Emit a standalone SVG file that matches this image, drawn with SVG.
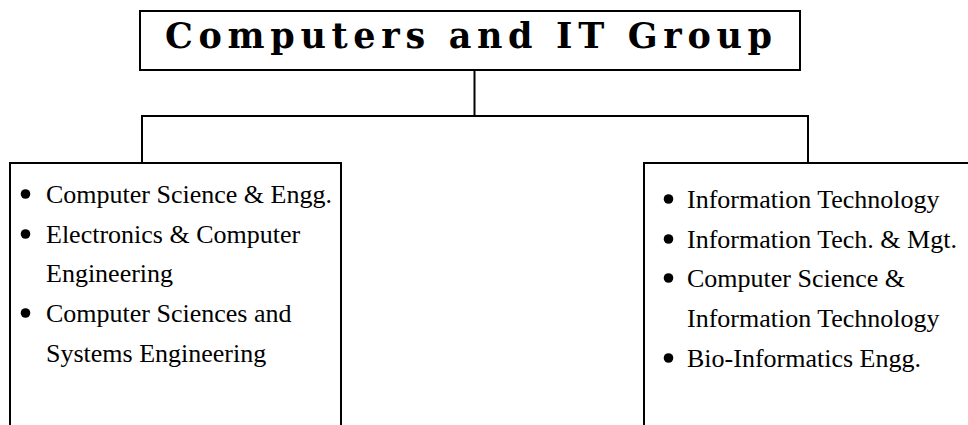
<svg xmlns="http://www.w3.org/2000/svg" width="968" height="425" viewBox="0 0 968 425">
<style>
.box{fill:none;stroke:#000;stroke-width:2}
.con{fill:none;stroke:#000;stroke-width:2}
.title{font-family:"DejaVu Serif","Liberation Serif",serif;font-weight:bold;font-size:35px;fill:#000}
.item{font-family:"Liberation Serif","Times New Roman",serif;font-size:26px;fill:#000}
.bul{fill:#000}
</style>
<rect width="968" height="425" fill="#fff"/>
<g id="connectors">
<path class="con" d="M474.5,70 V116"/>
<path class="con" d="M142,116 H808"/>
<path class="con" d="M142,115 V163"/>
<path class="con" d="M808,115 V163"/>
</g>
<g id="title">
<rect class="box" x="140" y="11" width="660" height="59"/>
<text class="title" x="165" y="48" textLength="607" lengthAdjust="spacing">Computers and IT Group</text>
</g>
<g id="left">
<path class="box" d="M10,426 V163 H341 V426"/>
<circle class="bul" cx="25.5" cy="194" r="4.8"/>
<circle class="bul" cx="25.5" cy="234" r="4.8"/>
<circle class="bul" cx="25.5" cy="313" r="4.8"/>
<text class="item" x="46" y="203">Computer Science &amp; Engg.</text>
<text class="item" x="46" y="243">Electronics &amp; Computer</text>
<text class="item" x="46" y="282">Engineering</text>
<text class="item" x="46" y="322">Computer Sciences and</text>
<text class="item" x="46" y="362">Systems Engineering</text>
</g>
<g id="right">
<path class="box" d="M644,426 V163 H970"/>
<circle class="bul" cx="668.5" cy="199" r="4.8"/>
<circle class="bul" cx="668.5" cy="239" r="4.8"/>
<circle class="bul" cx="668.5" cy="278" r="4.8"/>
<circle class="bul" cx="668.5" cy="358" r="4.8"/>
<text class="item" x="687" y="208">Information Technology</text>
<text class="item" x="687" y="248">Information Tech. &amp; Mgt.</text>
<text class="item" x="687" y="287">Computer Science &amp;</text>
<text class="item" x="687" y="327">Information Technology</text>
<text class="item" x="687" y="367">Bio-Informatics Engg.</text>
</g>
</svg>
